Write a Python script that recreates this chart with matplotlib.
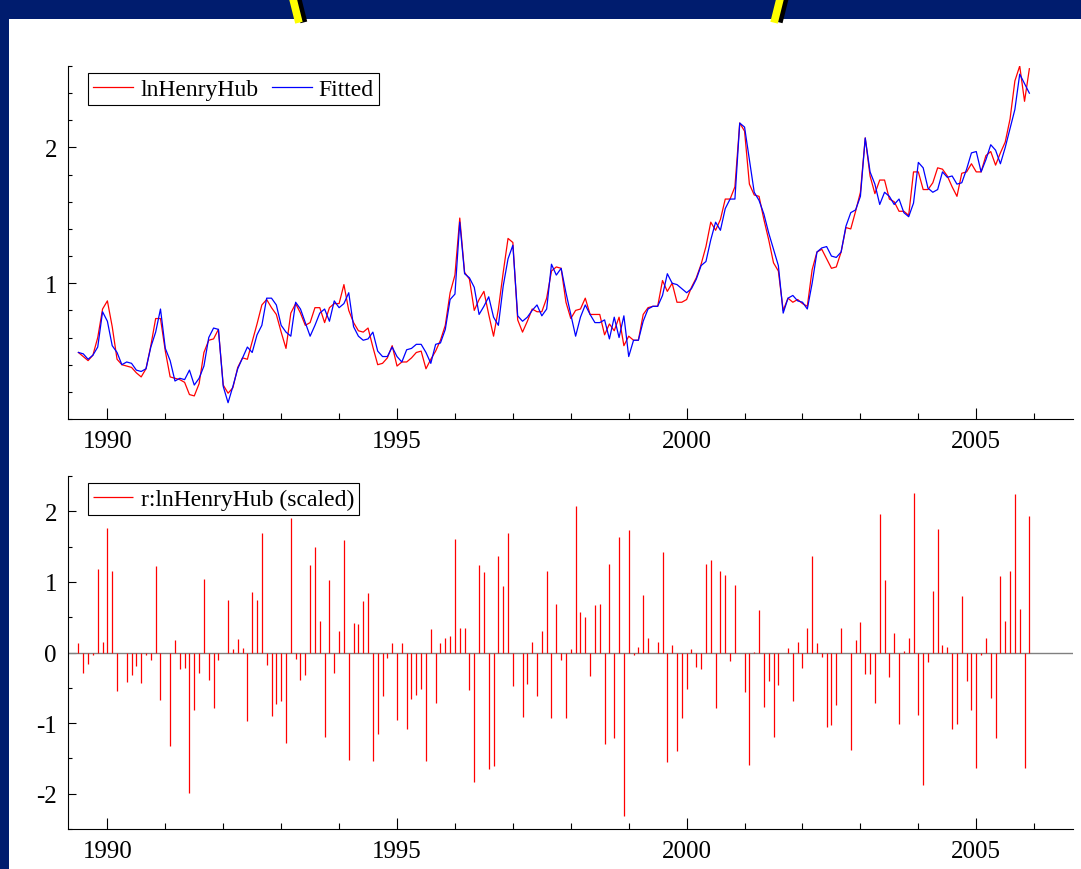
import matplotlib.pyplot as plt
import numpy as np
from matplotlib.patches import Rectangle
from matplotlib.lines import Line2D
from matplotlib.ticker import MultipleLocator, FixedLocator

plt.rcParams['font.family'] = ['Liberation Serif', 'DejaVu Serif']

# monthly data, July 1989 .. Dec 2005
start_year = 1989
start_month = 7

lnHenryHub = [
    0.49, 0.46, 0.43, 0.47, 0.60, 0.81, 0.87, 0.68, 0.44, 0.40,
    0.39, 0.38, 0.34, 0.31, 0.37, 0.54, 0.74, 0.74, 0.50, 0.31,
    0.30, 0.29, 0.27, 0.18, 0.17, 0.26, 0.49, 0.58, 0.59, 0.66,
    0.25, 0.19, 0.23, 0.38, 0.45, 0.44, 0.57, 0.70, 0.84, 0.88,
    0.82, 0.77, 0.64, 0.52, 0.78, 0.85, 0.78, 0.69, 0.71, 0.82,
    0.82, 0.71, 0.82, 0.85, 0.85, 0.99, 0.80, 0.71, 0.65, 0.64,
    0.67, 0.53, 0.40, 0.41, 0.45, 0.54, 0.39, 0.42, 0.42, 0.45,
    0.49, 0.50, 0.37, 0.44, 0.50, 0.58, 0.69, 0.93, 1.06, 1.48,
    1.08, 1.03, 0.80, 0.88, 0.94, 0.77, 0.61, 0.81, 1.08, 1.33,
    1.30, 0.73, 0.64, 0.72, 0.81, 0.79, 0.79, 0.89, 1.09, 1.12,
    1.11, 0.86, 0.74, 0.80, 0.81, 0.89, 0.77, 0.77, 0.77, 0.62,
    0.70, 0.65, 0.75, 0.54, 0.61, 0.58, 0.58, 0.77, 0.82, 0.83,
    0.83, 1.02, 0.94, 1.00, 0.86, 0.86, 0.88, 0.97, 1.04, 1.14,
    1.27, 1.45, 1.39, 1.47, 1.62, 1.62, 1.71, 2.18, 2.12, 1.73,
    1.65, 1.64, 1.47, 1.32, 1.15, 1.09, 0.80, 0.89, 0.86, 0.88,
    0.85, 0.83, 1.10, 1.23, 1.25, 1.18, 1.11, 1.12, 1.23, 1.41,
    1.40, 1.53, 1.67, 2.07, 1.79, 1.66, 1.76, 1.76, 1.62, 1.60,
    1.53, 1.53, 1.50, 1.82, 1.82, 1.69, 1.69, 1.74, 1.85, 1.84,
    1.79, 1.71, 1.64, 1.81, 1.82, 1.88, 1.82, 1.82, 1.94, 1.97,
    1.87, 1.96, 2.04, 2.21, 2.49, 2.60, 2.34, 2.58,
]

fitted = [
    0.49, 0.48, 0.44, 0.47, 0.53, 0.79, 0.72, 0.54, 0.49, 0.40,
    0.42, 0.41, 0.36, 0.35, 0.37, 0.53, 0.64, 0.81, 0.52, 0.43,
    0.28, 0.30, 0.29, 0.36, 0.25, 0.30, 0.39, 0.60, 0.67, 0.66,
    0.24, 0.12, 0.24, 0.37, 0.45, 0.53, 0.49, 0.62, 0.69, 0.89,
    0.89, 0.84, 0.69, 0.64, 0.61, 0.86, 0.81, 0.71, 0.61, 0.69,
    0.78, 0.81, 0.72, 0.87, 0.82, 0.85, 0.93, 0.68, 0.61, 0.58,
    0.59, 0.64, 0.50, 0.46, 0.46, 0.53, 0.46, 0.42, 0.51, 0.52,
    0.55, 0.55, 0.49, 0.41, 0.55, 0.56, 0.66, 0.88, 0.92, 1.45,
    1.07, 1.04, 0.97, 0.77, 0.83, 0.90, 0.75, 0.69, 0.98, 1.18,
    1.28, 0.76, 0.72, 0.75, 0.80, 0.84, 0.76, 0.81, 1.14, 1.06,
    1.11, 0.93, 0.77, 0.61, 0.75, 0.84, 0.77, 0.71, 0.71, 0.73,
    0.59, 0.75, 0.60, 0.76, 0.46, 0.58, 0.58, 0.72, 0.81, 0.83,
    0.83, 0.91, 1.07, 1.00, 0.99, 0.96, 0.93, 0.96, 1.03, 1.13,
    1.16, 1.32, 1.45, 1.39, 1.55, 1.62, 1.62, 2.18, 2.15, 1.91,
    1.67, 1.61, 1.51, 1.37, 1.25, 1.13, 0.78, 0.89, 0.91, 0.87,
    0.86, 0.81, 1.00, 1.23, 1.26, 1.27, 1.20, 1.19, 1.23, 1.42,
    1.52, 1.54, 1.64, 2.07, 1.82, 1.73, 1.58, 1.67, 1.64, 1.58,
    1.62, 1.52, 1.49, 1.59, 1.89, 1.85, 1.70, 1.67, 1.69, 1.82,
    1.78, 1.79, 1.73, 1.74, 1.84, 1.96, 1.97, 1.82, 1.91, 2.02,
    1.98, 1.88, 2.00, 2.14, 2.28, 2.54, 2.47, 2.40,
]

# scaled residuals
resid = [
    0.14, -0.29, -0.16, -0.03, 1.18, 0.15, 1.76, 1.15, -0.55, -0.01,
    -0.42, -0.32, -0.19, -0.43, -0.04, -0.11, 1.22, -0.67, -0.01, -1.33,
    0.17, -0.24, -0.22, -1.99, -0.81, -0.29, 1.04, -0.39, -0.79, -0.11,
    -0.01, 0.75, 0.05, 0.19, 0.06, -0.97, 0.85, 0.75, 1.69, -0.17,
    -0.90, -0.73, -0.68, -1.28, 1.90, -0.09, -0.39, -0.32, 1.24, 1.50,
    0.44, -1.19, 1.03, -0.29, 0.31, 1.60, -1.52, 0.42, 0.40, 0.73,
    0.84, -1.54, -1.15, -0.61, -0.08, 0.13, -0.95, 0.13, -1.08, -0.66,
    -0.60, -0.52, -1.54, 0.33, -0.71, 0.13, 0.20, 0.24, 1.61, 0.34,
    0.34, -0.53, -1.83, 1.24, 1.14, -1.65, -1.61, 1.37, 0.94, 1.69,
    -0.48, -0.01, -0.91, -0.44, 0.15, -0.61, 0.30, 1.16, -0.93, 0.69,
    -0.11, -0.93, 0.05, 2.08, 0.57, 0.50, -0.33, 0.67, 0.69, -1.30,
    1.26, -1.21, 1.64, -2.32, 1.73, -0.03, 0.08, 0.81, 0.21, -0.01,
    0.15, 1.43, -1.55, 0.10, -1.40, -0.93, -0.51, 0.05, -0.20, -0.24,
    1.25, 1.31, -0.78, 1.15, 1.10, -0.12, 0.95, -0.01, -0.56, -1.60,
    0.01, 0.60, -0.77, -0.40, -1.19, -0.46, -0.01, 0.06, -0.69, 0.15,
    -0.22, 0.34, 1.36, 0.13, -0.06, -1.05, -1.02, -0.74, 0.35, -0.01,
    -1.38, 0.18, 0.43, -0.31, -0.31, -0.72, 1.96, 1.02, -0.35, 0.28,
    -1.01, 0.02, 0.21, 2.26, -0.89, -1.87, -0.13, 0.87, 1.75, 0.11,
    0.08, -1.08, -1.01, 0.80, -0.41, -0.81, -1.64, -0.04, 0.20, -0.65,
    -1.21, 1.08, 0.44, 1.15, 2.25, 0.62, -1.64, 1.94,
]

# time axis in decimal years
t = start_year + (start_month - 1) / 12 + np.arange(len(lnHenryHub)) / 12

W, H = 1081, 870
fig = plt.figure(figsize=(W / 100, H / 100), dpi=100)
navy = '#001c6e'
fig.patch.set_facecolor(navy)

# white slide area
top_band = 20
fig.add_artist(Rectangle((9 / W, 0), 1 - 9 / W, (H - top_band) / H,
                         transform=fig.transFigure, facecolor='white',
                         edgecolor='none', zorder=-5))

# bits of the yellow ring sticking out at the top (with a dark shadow)
for x0, x1 in [(293, 298), (780, 775)]:
    fig.add_artist(Line2D([(x0 + 5) / W, (x1 + 5) / W], [1.0, (H - top_band) / H],
                          transform=fig.transFigure, color='black', lw=5, zorder=-4))
    fig.add_artist(Line2D([x0 / W, x1 / W], [1.0, (H - top_band) / H],
                          transform=fig.transFigure, color='#ffff00', lw=5.5, zorder=-3))

left = 68 / W
width = (1073 - 68) / W
ax1 = fig.add_axes([left, (H - 420) / H, width, 353 / H])
ax2 = fig.add_axes([left, (H - 830) / H, width, 353 / H])

ax1.plot(t, lnHenryHub, color='#ff0000', lw=0.9, label='lnHenryHub')
ax1.plot(t, fitted, color='#0000ff', lw=0.9, label='Fitted')
ax1.set_ylim(0, 2.6)
ax1.yaxis.set_major_locator(FixedLocator([1, 2]))
ax1.yaxis.set_minor_locator(MultipleLocator(0.2))

ax2.axhline(0, color='#808080', lw=1)
ax2.vlines(t, 0, resid, color='#ff0000', lw=0.9, label='r:lnHenryHub (scaled)')
ax2.set_ylim(-2.5, 2.5)
ax2.yaxis.set_major_locator(MultipleLocator(1))
ax2.yaxis.set_minor_locator(MultipleLocator(0.5))
ax2.set_yticks([-2, -1, 0, 1, 2])
ax2.set_yticklabels(['-2', '-1', '0', '1', '2'])

for ax in (ax1, ax2):
    ax.set_xlim(1989.32, 2006.67)
    ax.xaxis.set_major_locator(MultipleLocator(5))
    ax.xaxis.set_minor_locator(MultipleLocator(1))
    ax.spines['top'].set_visible(False)
    ax.spines['right'].set_visible(False)
    ax.spines['left'].set_linewidth(0.8)
    ax.spines['bottom'].set_linewidth(0.8)
    ax.tick_params(which='both', direction='in', labelsize=18, colors='black')
    ax.tick_params(axis='x', which='major', length=8, width=0.8, pad=8)
    ax.tick_params(axis='x', which='minor', length=4.5, width=0.8)
    ax.tick_params(axis='y', which='major', length=6, width=0.8, pad=8)
    ax.tick_params(axis='y', which='minor', length=3, width=0.8)
    leg = ax.legend(loc='upper left', bbox_to_anchor=(0.02, 0.98), borderaxespad=0,
                    ncol=2, fontsize=17, fancybox=False, framealpha=1,
                    edgecolor='black', handlelength=1.7, handletextpad=0.3,
                    columnspacing=0.55, borderpad=0.22)
    leg.get_frame().set_linewidth(0.8)

fig.savefig('out.png', dpi=100, facecolor=fig.get_facecolor())
